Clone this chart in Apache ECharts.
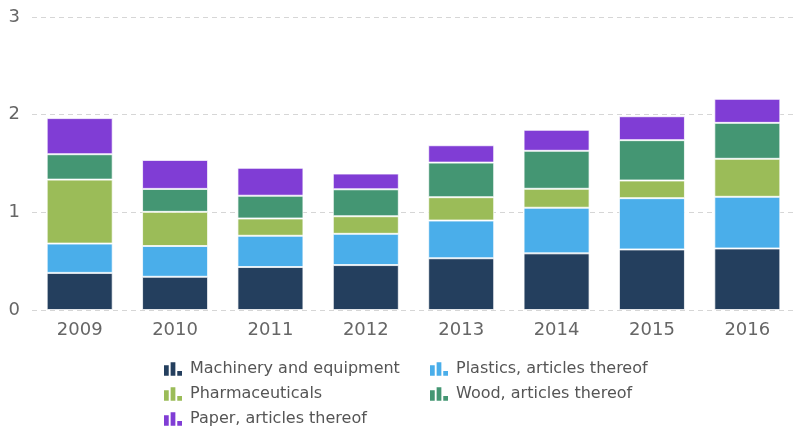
<!DOCTYPE html>
<html>
<head>
<meta charset="utf-8">
<script src="https://cdn.jsdelivr.net/npm/echarts@6/dist/echarts.min.js"></script>
<style>
  html, body { margin: 0; padding: 0; background: #fff; }
  #chart { width: 795px; height: 429px; }
</style>
</head>
<body>
<div id="chart"></div>
<script>
const years = ["2009", "2010", "2011", "2012", "2013", "2014", "2015", "2016"];
const machinery = [0.38, 0.34, 0.44, 0.46, 0.53, 0.58, 0.62, 0.63];
const plastics = [0.30, 0.315, 0.32, 0.32, 0.386, 0.467, 0.525, 0.529];
const pharma = [0.655, 0.35, 0.177, 0.18, 0.239, 0.194, 0.181, 0.389];
const wood = [0.26, 0.235, 0.233, 0.276, 0.354, 0.389, 0.413, 0.368];
const paper = [0.37, 0.297, 0.286, 0.161, 0.178, 0.215, 0.245, 0.246];
const yTicks = [0, 1, 2, 3];

const barIcon = "path://M0,3H5V14H0Z M7,0H12V14H7Z M14,9H19V14H14Z";

const chart = echarts.init(document.getElementById("chart"));

const mkSeries = (name, data, color) => ({
  name: name,
  type: "bar",
  stack: "total",
  data: data,
  barWidth: 66,
  itemStyle: {
    color: color,
    borderColor: "rgba(255,255,255,0.75)",
    borderWidth: 1,
  },
});

// one legend per item so the two columns line up like the reference
const mkLegend = (name, left, top) => ({
  left: left,
  top: top,
  data: [name],
  itemWidth: 18,
  itemHeight: 14,
  icon: barIcon,
  itemStyle: { borderWidth: 0 },
  textStyle: { fontFamily: "DejaVu Sans", fontSize: 16, color: "#555", padding: [0, 0, 0, 3] },
});

const option = {
  animation: false,
  grid: { left: 32, right: -14, top: 17, bottom: 119, containLabel: false },
  legend: [
    mkLegend("Machinery and equipment", 159, 356),
    mkLegend("Pharmaceuticals", 159, 381),
    mkLegend("Paper, articles thereof", 159, 406),
    mkLegend("Plastics, articles thereof", 425, 356),
    mkLegend("Wood, articles thereof", 425, 381),
  ],
  xAxis: {
    type: "category",
    data: years,
    axisLine: { show: false },
    axisTick: { show: false },
    axisLabel: { fontFamily: "DejaVu Sans", fontSize: 18, color: "#666", margin: 11 },
  },
  yAxis: {
    type: "value",
    min: yTicks[0],
    max: yTicks[yTicks.length - 1],
    interval: 1,
    axisLine: { show: false },
    axisTick: { show: false },
    axisLabel: { fontFamily: "DejaVu Sans", fontSize: 18, color: "#666", margin: 12 },
    splitLine: { lineStyle: { type: [5, 4], color: "#d6d6d6", width: 1 } },
  },
  series: [
    mkSeries("Machinery and equipment", machinery, "#243f5e"),
    mkSeries("Plastics, articles thereof", plastics, "#4aaeea"),
    mkSeries("Pharmaceuticals", pharma, "#9bbc58"),
    mkSeries("Wood, articles thereof", wood, "#449673"),
    mkSeries("Paper, articles thereof", paper, "#803dd5"),
  ],
};

chart.setOption(option);
window.addEventListener("resize", () => chart.resize());
</script>
</body>
</html>
